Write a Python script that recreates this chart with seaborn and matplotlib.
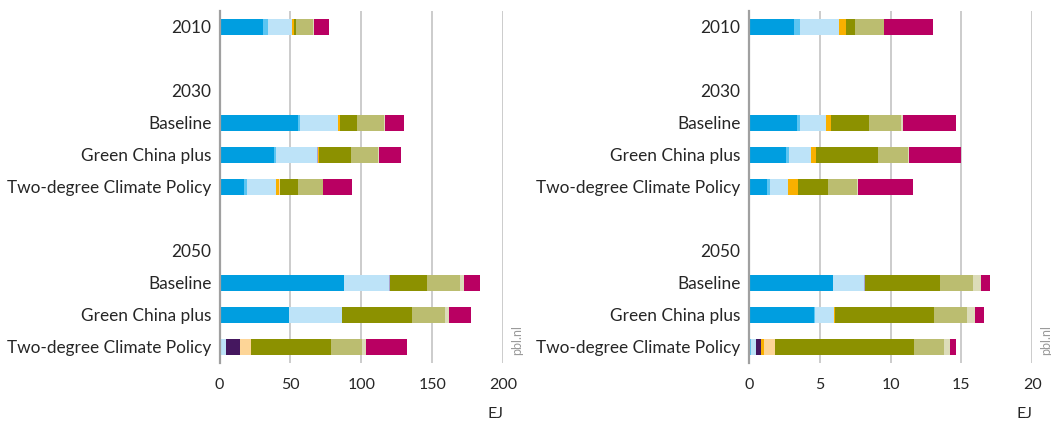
import numpy as np
import pandas as pd
import matplotlib
matplotlib.use("Agg")
import matplotlib.pyplot as plt
import seaborn as sns

# Row labels (top to bottom); header rows hold no bar
row_labels = ["2010", "", "2030", "Baseline", "Green China plus", "Two-degree Climate Policy",
              "", "2050", "Baseline", "Green China plus", "Two-degree Climate Policy"]
# Which rows carry a bar (index into row_labels)
bar_rows = [0, 3, 4, 5, 8, 9, 10]

# Stack segments, in drawing order from left to right
segments = ["Coal", "Oil", "Natural gas", "Coal with CCS", "Gas with CCS", "Nuclear",
            "Bio with CCS", "Modern biomass", "Hydro", "Other renewables", "Traditional biomass"]
seg_colors = ["#009ee0", "#5bc5f2", "#bde3f8", "#45175f", "#a9a3d0", "#f9b000",
              "#fdd597", "#8c9100", "#bbbd70", "#dcdcb9", "#b90062"]

# Left panel (EJ) - one list per bar, values per segment
left_2010 = [30.6, 3.5, 17.0, 0, 0, 1.4, 0, 1.4, 12.2, 0.5, 10.6]
left_base_2030 = [55.3, 1.4, 26.8, 0, 0, 1.4, 0, 12.0, 19.1, 0.7, 13.4]
left_green_2030 = [38.4, 1.4, 29.0, 0, 0.7, 0.7, 0, 22.6, 19.1, 0.7, 15.5]
left_2deg_2030 = [17.2, 2.1, 20.5, 0, 0, 2.1, 0.6, 12.7, 17.7, 0, 20.5]
left_base_2050 = [87.8, 0, 31.8, 0, 0.7, 0, 0, 26.1, 23.3, 2.8, 11.3]
left_green_2050 = [49.0, 0, 37.4, 0, 0, 0, 0, 49.5, 23.3, 2.8, 15.5]
left_2deg_2050 = [0, 0, 4.2, 9.9, 0, 0.5, 7.3, 56.5, 21.9, 2.8, 29.0]

# Right panel (EJ)
right_2010 = [3.20, 0.42, 2.75, 0, 0, 0.49, 0, 0.63, 2.04, 0, 3.45]
right_base_2030 = [3.41, 0.21, 1.83, 0, 0, 0.35, 0, 2.68, 2.26, 0.14, 3.74]
right_green_2030 = [2.63, 0.21, 1.55, 0, 0, 0.35, 0, 4.37, 2.12, 0.07, 3.67]
right_2deg_2030 = [1.29, 0.21, 1.27, 0, 0, 0.71, 0, 2.12, 2.04, 0.07, 3.88]
right_base_2050 = [5.95, 0, 2.19, 0, 0.07, 0, 0, 5.29, 2.33, 0.56, 0.63]
right_green_2050 = [4.61, 0.07, 1.34, 0, 0, 0.07, 0, 6.98, 2.33, 0.56, 0.63]
right_2deg_2050 = [0.07, 0.12, 0.31, 0.35, 0, 0.21, 0.78, 9.80, 2.12, 0.42, 0.42]

left_ticks = [0, 50, 100, 150, 200]
right_ticks = [0, 5, 10, 15, 20]

left_bars = [left_2010, left_base_2030, left_green_2030, left_2deg_2030,
             left_base_2050, left_green_2050, left_2deg_2050]
right_bars = [right_2010, right_base_2030, right_green_2030, right_2deg_2030,
              right_base_2050, right_green_2050, right_2deg_2050]

sns.set_style("white")
plt.rcParams["font.family"] = ["Lato", "DejaVu Sans"]
plt.rcParams["text.color"] = "#222222"


def build_table(bars):
    # one row per plotted row, columns = segments (empty rows get zeros)
    keys = [f"r{i}" for i in range(len(row_labels))]
    vals = np.zeros((len(row_labels), len(segments)))
    for r, b in zip(bar_rows, bars):
        vals[r] = b
    df = pd.DataFrame(vals, columns=segments)
    df["row"] = keys
    return df, keys


def stacked_panel(ax, bars, ticks):
    df, keys = build_table(bars)
    cum = df[segments].cumsum(axis=1)
    # draw cumulative totals from the outermost segment inwards
    for i in range(len(segments) - 1, -1, -1):
        sns.barplot(x=cum[segments[i]], y=df["row"], order=keys, orient="h",
                    color=seg_colors[i], width=0.5, ax=ax, linewidth=0,
                    edgecolor="none", saturation=1)
    ax.set_xlim(ticks[0], ticks[-1])
    ax.set_ylim(len(keys) - 0.5, -0.5)
    ax.set_xticks(ticks)
    ax.set_yticks(range(len(keys)), row_labels)
    ax.xaxis.grid(True, color="#cccccc", lw=1.4)
    ax.set_axisbelow(True)
    for s in ["top", "right", "bottom"]:
        ax.spines[s].set_visible(False)
    ax.spines["left"].set_color("#a0a0a0")
    ax.spines["left"].set_linewidth(1.6)
    ax.tick_params(axis="y", length=0, pad=6, labelsize=12.4)
    ax.tick_params(axis="x", length=3, color="#cccccc", pad=8, labelsize=11.5)
    ax.set_ylabel("")
    ax.set_xlabel("EJ", loc="right", fontsize=11.5, labelpad=11)


fig = plt.figure(figsize=(10.51, 4.21), dpi=100)
ax1 = fig.add_axes([0.209, 0.138, 0.2696, 0.836])
ax2 = fig.add_axes([0.7124, 0.138, 0.2698, 0.836])

stacked_panel(ax1, left_bars, left_ticks)
stacked_panel(ax2, right_bars, right_ticks)

fig.text(0.492, 0.157, "pbl.nl", rotation=90, color="#9a9a9a", fontsize=9,
         ha="center", va="bottom")
fig.text(0.995, 0.157, "pbl.nl", rotation=90, color="#9a9a9a", fontsize=9,
         ha="center", va="bottom")

fig.savefig("out.png", dpi=100)
